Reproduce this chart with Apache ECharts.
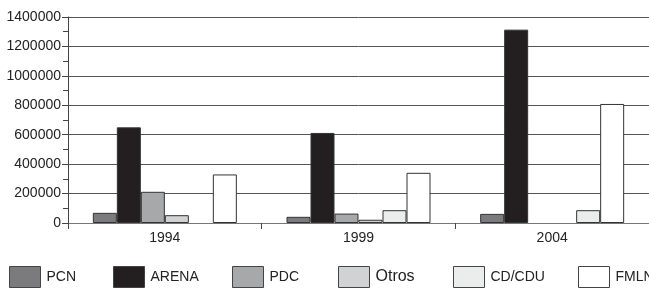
<!DOCTYPE html>
<html>
<head>
<meta charset="utf-8">
<script src="https://cdn.jsdelivr.net/npm/echarts@6/dist/echarts.min.js"></script>
<style>
    html, body { margin: 0; padding: 0; background: #fff; }
    #main { width: 649px; height: 295px; }
</style>
</head>
<body>
<div id="main"></div>
<script>
'use strict';

// data
var years = ['1994', '1999', '2004'];
var pcn = [69000, 42000, 62000];
var arena = [650000, 612000, 1314000];
var pdc = [212000, 64000, 0];
var otros = [53000, 22000, 0];
var cdcdu = [0, 87000, 87000];
var fmln = [330000, 341000, 809000];

var names = ['PCN', 'ARENA', 'PDC', 'Otros', 'CD/CDU', 'FMLN'];
var values = [pcn, arena, pdc, otros, cdcdu, fmln];
var colors = ['#7b7b7d', '#231f20', '#a7a8aa', '#d1d2d3', '#ebecec', '#ffffff'];
var legendLeft = [9, 113, 232, 338, 453, 578];

var font = '"Liberation Sans", Arial, sans-serif';

var myChart = echarts.init(document.getElementById('main'));

var legends = names.map(function(n, i) {
    return {
        data: [n],
        left: legendLeft[i],
        top: 266,
        icon: 'rect',
        itemWidth: 31,
        itemHeight: 21,
        itemGap: 0,
        padding: 0,
        textStyle: {
            fontFamily: font,
            fontSize: n === 'Otros' ? 16 : 14,
            color: '#222',
            padding: [0, 0, 0, 1]
        },
        itemStyle: { borderColor: '#444', borderWidth: 1 }
    };
});

var option = {
    animation: false,
    legend: legends,
    grid: {
        left: 68,
        right: -2,
        top: 17,
        bottom: 72
    },
    xAxis: {
        type: 'category',
        data: years,
        axisLine: { lineStyle: { color: '#777', width: 1 } },
        axisTick: { show: true, length: 6, lineStyle: { color: '#444' } },
        axisLabel: {
            margin: 8,
            fontFamily: font,
            fontSize: 14,
            color: '#222'
        }
    },
    yAxis: {
        type: 'value',
        min: 0,
        max: 1400000,
        interval: 200000,
        axisLine: { show: true, lineStyle: { color: '#444' } },
        axisTick: { show: true, length: 6, lineStyle: { color: '#444' } },
        minorTick: { show: true, splitNumber: 2, length: 5, lineStyle: { color: '#444' } },
        splitLine: { lineStyle: { color: '#555', width: 1 } },
        axisLabel: {
            margin: 7,
            fontFamily: font,
            fontSize: 14,
            color: '#222',
            formatter: function(v) { return String(v); }
        }
    },
    series: names.map(function(n, i) {
        return {
            name: n,
            type: 'bar',
            data: values[i].map(function(v) { return v === 0 ? '-' : v; }),
            barGap: '0%',
            barWidth: 24,
            itemStyle: {
                color: colors[i],
                borderColor: '#333',
                borderWidth: 1
            }
        };
    })
};
myChart.setOption(option);
</script>
</body>
</html>
